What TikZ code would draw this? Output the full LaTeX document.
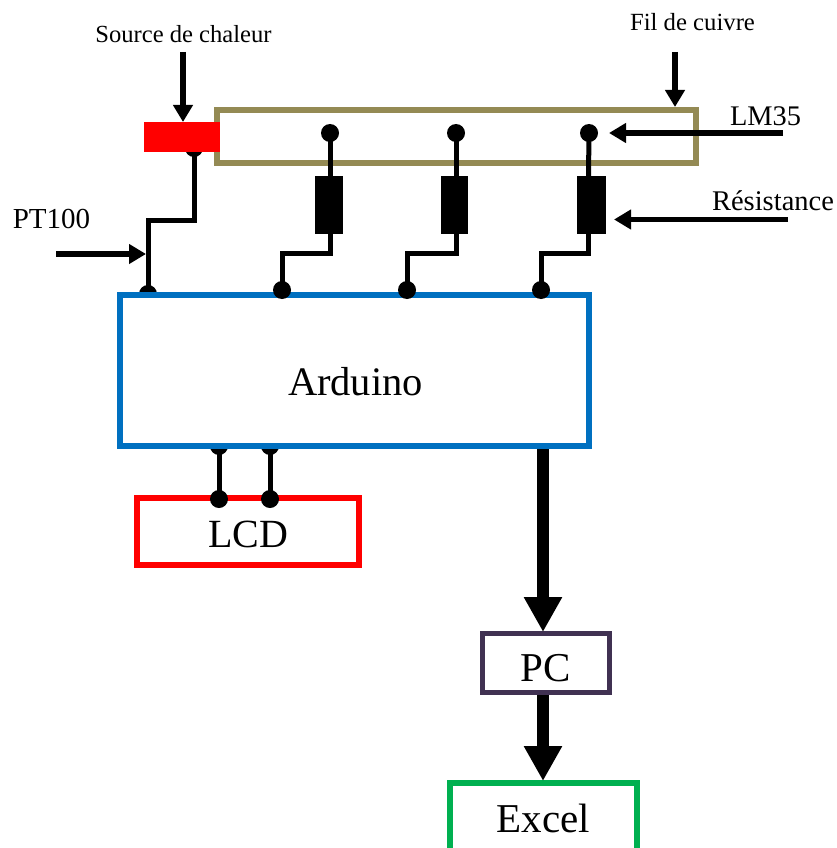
\documentclass[tikz,border=0pt]{standalone}
\usepackage{fontspec}
\setmainfont{Liberation Serif}
\usetikzlibrary{arrows.meta}
\definecolor{copperc}{HTML}{948A54}
\definecolor{bluec}{HTML}{0070C0}
\definecolor{pcc}{HTML}{403152}
\definecolor{excelc}{HTML}{00B050}
\tikzset{
  boxbase/.style={rectangle,draw,inner sep=0pt,outer sep=0pt,fill=none},
  dotn/.style={circle,fill=black,inner sep=0pt,outer sep=0pt,minimum size=18pt},
  wire/.style={line width=5pt,black,line join=miter},
  resist/.style={rectangle,fill=black,inner sep=0pt,outer sep=0pt,minimum width=28pt,minimum height=58pt},
  smallarrow/.style={line width=5.5pt,black,-{Triangle[width=19pt,length=17pt]}},
  bigarrow/.style={line width=12.5pt,black,-{Triangle[width=36pt,length=35pt]}},
  txt/.style={inner sep=0pt,outer sep=0pt,anchor=center,text=black}
}
\begin{document}
\begin{tikzpicture}[x=1pt,y=-1pt]
\useasboundingbox (0,0) rectangle (837,848);
\clip (0,0) rectangle (837,848);
\fill[white] (0,0) rectangle (837,848);
% dots hidden behind boxes
\node[dotn] (dheat) at (194,148) {};
\node[dotn] (dpt) at (148,294) {};
\node[dotn] (dl1top) at (219,446) {};
\node[dotn] (dl2top) at (270,446) {};
% copper wire box
\node[boxbase,draw=copperc,line width=6pt,minimum width=479pt,minimum height=53pt] (fil) at (456.5,136.5) {};
% heater
\node[rectangle,fill=red,inner sep=0pt,outer sep=0pt,minimum width=76pt,minimum height=30pt] (heat) at (182,137) {};
% sensors, resistors
\node[dotn] (s1) at (330,133) {};
\node[dotn] (s2) at (456,133) {};
\node[dotn] (s3) at (589,133) {};
\node[resist] (r1) at (329,205) {};
\node[resist,minimum width=27pt] (r2) at (454.5,205) {};
\node[resist,minimum width=29pt] (r3) at (591.5,205) {};
% Arduino
\node[boxbase,draw=bluec,fill=white,line width=6pt,minimum width=469pt,minimum height=151pt] (ard) at (354.5,370.5) {};
\node[txt,font=\fontsize{40.5}{48}\selectfont] (tard) at (355.5,382) {Arduino};
% pins
\node[dotn] (p1) at (282,290) {};
\node[dotn] (p2) at (407,290) {};
\node[dotn] (p3) at (541,290) {};
% wires
\draw[wire] (heat.south -| dheat) -- (194,220) -| (148,292);
\draw[wire] (s1.center) -- (330,176);
\draw[wire] (s2.center) -- (456,176);
\draw[wire] (s3.center) -- (588.5,176);
\draw[wire] (330,234) -- (330,253.5) -| (p1.center);
\draw[wire] (456,234) -- (456,253.5) -| (p2.center);
\draw[wire] (588.5,234) -- (588.5,253.5) -| (p3.center);
% LCD
\node[boxbase,draw=red,line width=6pt,minimum width=222pt,minimum height=67pt] (lcd) at (248,531.5) {};
\node[txt,font=\fontsize{40}{48}\selectfont] (tlcd) at (248,534) {LCD};
\node[dotn] (dl1) at (219,499) {};
\node[dotn] (dl2) at (270,499) {};
\draw[wire] (219,449) -- (dl1.center);
\draw[wire] (270,449) -- (dl2.center);
% PC and Excel
\node[boxbase,draw=pcc,line width=5pt,minimum width=127pt,minimum height=59pt] (pc) at (546,663) {};
\node[txt,font=\fontsize{41}{48}\selectfont] (tpc) at (545.5,668) {PC};
\node[boxbase,draw=excelc,line width=6pt,minimum width=187pt,minimum height=120pt] (xl) at (543.5,843) {};
\node[txt,font=\fontsize{41}{48}\selectfont] (txl) at (543.5,818) {Excel};
% big arrows
\coordinate (a1) at (543,449);
\coordinate (a2) at (543,632);
\coordinate (a3) at (543,695);
\coordinate (a4) at (543,781);
\draw[bigarrow] (a1) -- (a2);
\draw[bigarrow] (a3) -- (a4);
% labels
\node[txt,font=\fontsize{24.6}{30}\selectfont] (lsrc) at (183.5,34) {Source de chaleur};
\node[txt,font=\fontsize{24.7}{30}\selectfont] (lfil) at (692.5,22) {Fil de cuivre};
\node[txt,font=\fontsize{29}{34}\selectfont] (lpt) at (51.5,219) {PT100};
\node[txt,font=\fontsize{28.4}{34}\selectfont] (llm) at (765.5,116) {LM35};
\node[txt,font=\fontsize{28.5}{34}\selectfont] (lres) at (773,201) {Résistance};
% label arrows
\coordinate (b1) at (183,52);
\coordinate (b2) at (183,122);
\coordinate (b3) at (675,52);
\coordinate (b4) at (675,107);
\coordinate (b5) at (56,254);
\coordinate (b6) at (146,254);
\coordinate (b7) at (783,133);
\coordinate (b8) at (609,133);
\coordinate (b9) at (788,219.5);
\coordinate (b10) at (614,219.5);
\draw[smallarrow] (b1) -- (b2);
\draw[smallarrow] (b3) -- (b4);
\draw[smallarrow] (b5) -- (b6);
\draw[smallarrow] (b7) -- (b8);
\draw[smallarrow] (b9) -- (b10);
\end{tikzpicture}
\end{document}
